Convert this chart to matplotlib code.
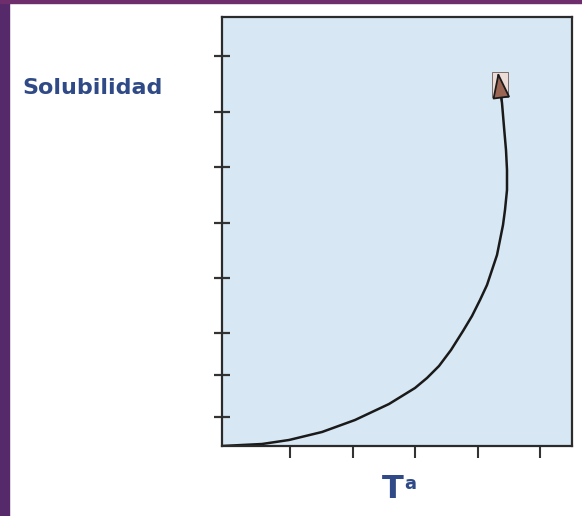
import matplotlib
matplotlib.use("Agg")
import matplotlib.pyplot as plt
from matplotlib.patches import Rectangle, FancyArrowPatch

# Data (pixel-like units: x right from axis, y up from axis)
curve_x = [0, 40, 67, 100, 133, 167, 193, 205, 217, 229, 241, 250, 258, 265, 270, 275, 278, 281,
           283, 285, 285, 284, 282, 280, 279]
curve_y = [0, 2, 6, 14, 26, 42, 58, 68, 80, 96, 115, 130, 146, 161, 176, 191, 206, 221,
           236, 256, 276, 296, 319, 343, 351]
tip_x, tip_y = 276, 374
x_ticks = [68, 131, 193, 256, 318]
y_ticks = [29, 71, 113, 168, 223, 279, 334, 390]
x_label = "T"
x_label_sup = "a"
y_label = "Solubilidad"

W, H = 582, 516
fig = plt.figure(figsize=(W / 100, H / 100), dpi=100)
fig.patch.set_facecolor("white")

# purple borders
fig.add_artist(Rectangle((0, 0), 9 / W, 1, transform=fig.transFigure, color="#55296a", zorder=0))
fig.add_artist(Rectangle((0, 1 - 3 / H), 1, 3 / H, transform=fig.transFigure, color="#6e2d6c", zorder=0))

left, right, top, bottom = 222, 572, 17, 446
ax = fig.add_axes([left / W, 1 - bottom / H, (right - left) / W, (bottom - top) / H])
ax.set_facecolor("#d7e7f3")
ax.set_xlim(0, right - left)
ax.set_ylim(0, bottom - top)

for s in ax.spines.values():
    s.set_linewidth(1.6)
    s.set_color("#2b2b2b")

ax.set_xticks(x_ticks)
ax.set_yticks(y_ticks)
ax.set_xticklabels([])
ax.set_yticklabels([])
ax.tick_params(axis="x", direction="out", length=8.5, width=1.5, color="#333333")
ax.tick_params(axis="y", direction="inout", length=11.5, width=1.6, color="#333333")

ax.plot(curve_x, curve_y, color="#1a1a1a", lw=1.8, solid_capstyle="round", solid_joinstyle="round")

# arrowhead box + head
ax.add_patch(Rectangle((tip_x - 6, tip_y - 25), 16, 25, facecolor="#ecdcd8", edgecolor="#6a5a58",
                       lw=0.6, zorder=3))
arr = FancyArrowPatch((curve_x[-2], curve_y[-2]), (tip_x, tip_y),
                      arrowstyle="-|>,head_length=16.5,head_width=5.6",
                      mutation_scale=1, lw=1.3, shrinkA=0, shrinkB=0, zorder=4)
arr.set_facecolor("#9a6552")
arr.set_edgecolor("#1a1a1a")
ax.add_patch(arr)

txt_color = "#2f4a86"
fig.text(93 / W, 1 - 88 / H, y_label, ha="center", va="center", fontsize=16,
         fontweight="bold", color=txt_color, family="DejaVu Sans")
fig.text(404 / W, 1 - 490 / H, x_label, ha="right", va="center", fontsize=23,
         fontweight="bold", color=txt_color, family="DejaVu Sans")
fig.text(404 / W, 1 - 484 / H, x_label_sup, ha="left", va="center", fontsize=13,
         fontweight="bold", color=txt_color, family="DejaVu Sans")

fig.savefig("out.png", dpi=100)
